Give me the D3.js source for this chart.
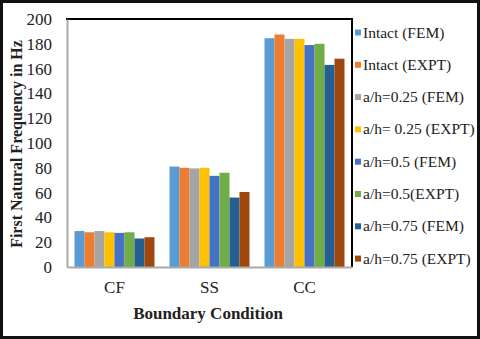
<!DOCTYPE html>
<html><head><meta charset="utf-8">
<script src="https://cdn.jsdelivr.net/npm/d3@7"></script>
<style>body{margin:0;background:#fff}svg{display:block}svg text{font-family:'Times New Roman','Liberation Serif',Tinos,'DejaVu Serif',serif !important;fill:#222}</style>
</head><body><svg id="c" width="480" height="339"></svg>
<script>
const categories = ["CF", "SS", "CC"];
const seriesNames = ["Intact (FEM)", "Intact (EXPT)", "a/h=0.25 (FEM)", "a/h= 0.25 (EXPT)", "a/h=0.5 (FEM)", "a/h=0.5(EXPT)", "a/h=0.75 (FEM)", "a/h=0.75 (EXPT)"];
const intactFEM   = [29, 81, 184.5];
const intactEXPT  = [28, 80, 187.5];
const ah025FEM    = [29, 79.5, 184];
const ah025EXPT   = [28, 80, 184];
const ah05FEM     = [27.5, 73.5, 179];
const ah05EXPT    = [28, 76, 180];
const ah075FEM    = [23, 56, 163];
const ah075EXPT   = [24, 60.5, 168];
const yTicks = [0, 20, 40, 60, 80, 100, 120, 140, 160, 180, 200];
const colors = ["#5B9BD5", "#ED7D31", "#A5A5A5", "#FFC000", "#4472C4", "#70AD47", "#255E91", "#9E480E"];
const series = [intactFEM, intactEXPT, ah025FEM, ah025EXPT, ah05FEM, ah05EXPT, ah075FEM, ah075EXPT];

const FONT = "'Times New Roman','Liberation Serif',Tinos,'DejaVu Serif',serif";
const svg = d3.select("#c");
const L = 67, R = 352, T = 19, B = 267;
const x = d3.scaleBand().domain(categories).range([L, R]).paddingInner(0.158).paddingOuter(0.079);
const xs = d3.scaleBand().domain(d3.range(series.length)).range([0, x.bandwidth()]);
const y = d3.scaleLinear().domain([0, 200]).range([B, T]);

svg.append("rect").attr("x", 1.5).attr("y", 1.5).attr("width", 477).attr("height", 336)
  .attr("fill", "#fff").attr("stroke", "#111").attr("stroke-width", 3);

series.forEach((vals, i) => {
  svg.append("g").selectAll("rect").data(vals).join("rect")
    .attr("x", (d, j) => x(categories[j]) + xs(i))
    .attr("y", d => y(d))
    .attr("width", xs.bandwidth())
    .attr("height", d => y(0) - y(d))
    .attr("fill", colors[i]);
});

svg.append("line").attr("x1", L - 1).attr("x2", R + 1).attr("y1", T).attr("y2", T).attr("stroke", "#000").attr("stroke-width", 2);
svg.append("line").attr("x1", R).attr("x2", R).attr("y1", T).attr("y2", B).attr("stroke", "#000").attr("stroke-width", 2);

const ya = svg.append("g").attr("transform", `translate(${L},0)`)
  .call(d3.axisLeft(y).tickValues(yTicks).tickSize(0).tickPadding(15));
ya.attr("font-family", FONT);
ya.select(".domain").attr("stroke", "#aaa").attr("stroke-width", 2);
ya.selectAll("text").attr("font-size", 17).attr("fill", "#222");

const xa = svg.append("g").attr("transform", `translate(0,${B})`)
  .call(d3.axisBottom(x).tickSize(0).tickPadding(14));
xa.attr("font-family", FONT);
xa.select(".domain").attr("stroke", "#aaa").attr("stroke-width", 2);
xa.selectAll("text").attr("font-size", 17).attr("fill", "#222");

svg.append("text").attr("transform", `translate(21.5,${(T + B) / 2 + 1}) rotate(-90)`)
  .attr("text-anchor", "middle").attr("font-weight", "bold").attr("font-size", 16)
  .text("First Natural Frequency in Hz");
svg.append("text").attr("x", 208).attr("y", 319).attr("text-anchor", "middle")
  .attr("font-weight", "bold").attr("font-size", 17).text("Boundary Condition");

const lg = svg.append("g");
seriesNames.forEach((n, i) => {
  const cy = 32.5 + i * 32.3;
  lg.append("rect").attr("x", 355).attr("y", cy - 3).attr("width", 6).attr("height", 6).attr("fill", colors[i]);
  lg.append("text").attr("x", 363).attr("y", cy + 5).attr("font-size", 15.5).text(n);
});
</script></body></html>
